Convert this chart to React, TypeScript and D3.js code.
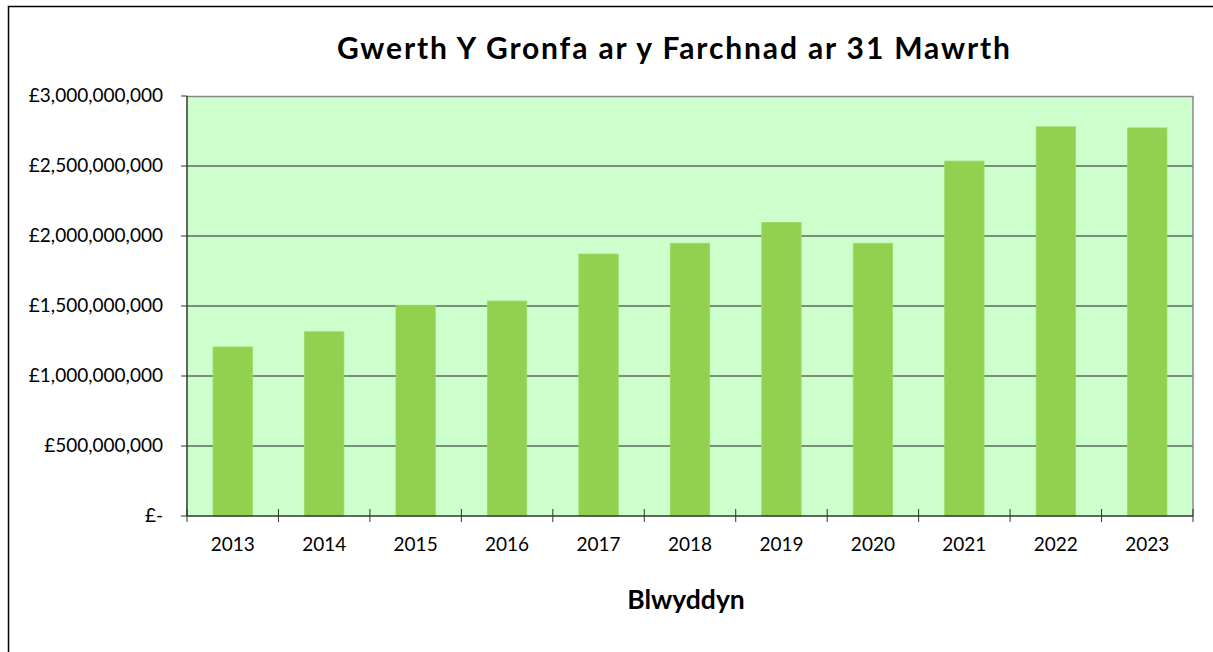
import React from 'react';
import * as d3 from 'd3';

const years = ['2013', '2014', '2015', '2016', '2017', '2018', '2019', '2020', '2021', '2022', '2023'];
const fundValues = [1207000000, 1316000000, 1505000000, 1535000000, 1871000000, 1948000000, 2097000000, 1948000000, 2535000000, 2780000000, 2772000000];
const yTicks = [0, 500000000, 1000000000, 1500000000, 2000000000, 2500000000, 3000000000];

const W = 1213;
const H = 652;
const margin = { top: 96, right: 20, bottom: 136, left: 187 };
const FONT = 'Lato, "DejaVu Sans", sans-serif';

const fmtMoney = (v: number) => (v === 0 ? '£-' : '£' + d3.format(',')(v));

const App: React.FC = () => {
  const innerW = W - margin.left - margin.right;
  const innerH = H - margin.top - margin.bottom;

  const x = d3.scaleBand<string>().domain(years).range([0, innerW]).paddingInner(0.57).paddingOuter(0.285);
  const xCat = d3.scaleBand<string>().domain(years).range([0, innerW]);
  const y = d3.scaleLinear().domain([0, 3000000000]).range([innerH, 0]);

  return (
    <div style={{ position: 'absolute', left: 0, top: 0, width: W, height: H, background: '#fff' }}>
      <svg width={W} height={H} style={{ display: 'block' }}>
        {/* outer chart border */}
        <rect x={8.5} y={6.5} width={W + 20} height={H + 20} fill="#fff" stroke="#000" strokeWidth={1.5} />

        <text x={673.5} y={59} textAnchor="middle" fontFamily={FONT} fontWeight="bold" fontSize={30} fill="#000"
          textLength={673} lengthAdjust="spacing">
          Gwerth Y Gronfa ar y Farchnad ar 31 Mawrth
        </text>

        <g transform={`translate(${margin.left},${margin.top})`}>
          <rect x={0} y={0} width={innerW} height={innerH} fill="#CCFFCC" />

          {/* gridlines */}
          {yTicks.slice(1, -1).map(t => (
            <line key={t} x1={0} x2={innerW} y1={y(t)} y2={y(t)} stroke="#222" strokeWidth={1} />
          ))}

          {/* bars */}
          {years.map((yr, i) => (
            <rect
              key={yr}
              x={x(yr)}
              y={y(fundValues[i])}
              width={x.bandwidth()}
              height={innerH - y(fundValues[i])}
              fill="#92D050"
              stroke="#9ed862"
              strokeWidth={0.8}
            />
          ))}

          {/* plot border top/right */}
          <line x1={0} x2={innerW} y1={0.5} y2={0.5} stroke="#888" strokeWidth={1.5} />
          <line x1={innerW} x2={innerW} y1={0} y2={innerH} stroke="#888" strokeWidth={1.5} />

          {/* y axis */}
          <line x1={0} x2={0} y1={0} y2={innerH} stroke="#333" strokeWidth={1.5} />
          {yTicks.map(t => (
            <g key={t}>
              <line x1={-6} x2={0} y1={y(t)} y2={y(t)} stroke="#333" strokeWidth={1} />
              <text x={-24} y={y(t)} dy={6} textAnchor="end" fontFamily={FONT} fontSize={19} fill="#000">
                {fmtMoney(t)}
              </text>
            </g>
          ))}

          {/* x axis */}
          <line x1={0} x2={innerW} y1={innerH} y2={innerH} stroke="#333" strokeWidth={1.5} />
          {years.concat(['end']).map((yr, i) => {
            const px = i < years.length ? (xCat(yr) as number) : innerW;
            return <line key={'t' + yr} x1={px} x2={px} y1={innerH - 7} y2={innerH + 6} stroke="#333" strokeWidth={1} />;
          })}
          {years.map(yr => (
            <text
              key={'l' + yr}
              x={(xCat(yr) as number) + xCat.bandwidth() / 2}
              y={innerH + 35}
              textAnchor="middle"
              fontFamily={FONT}
              fontSize={19}
              fill="#000"
            >
              {yr}
            </text>
          ))}
        </g>

        <text x={686} y={609} textAnchor="middle" fontFamily={FONT} fontWeight="bold" fontSize={26.5} fill="#000">
          Blwyddyn
        </text>
      </svg>
    </div>
  );
};

export default App;
